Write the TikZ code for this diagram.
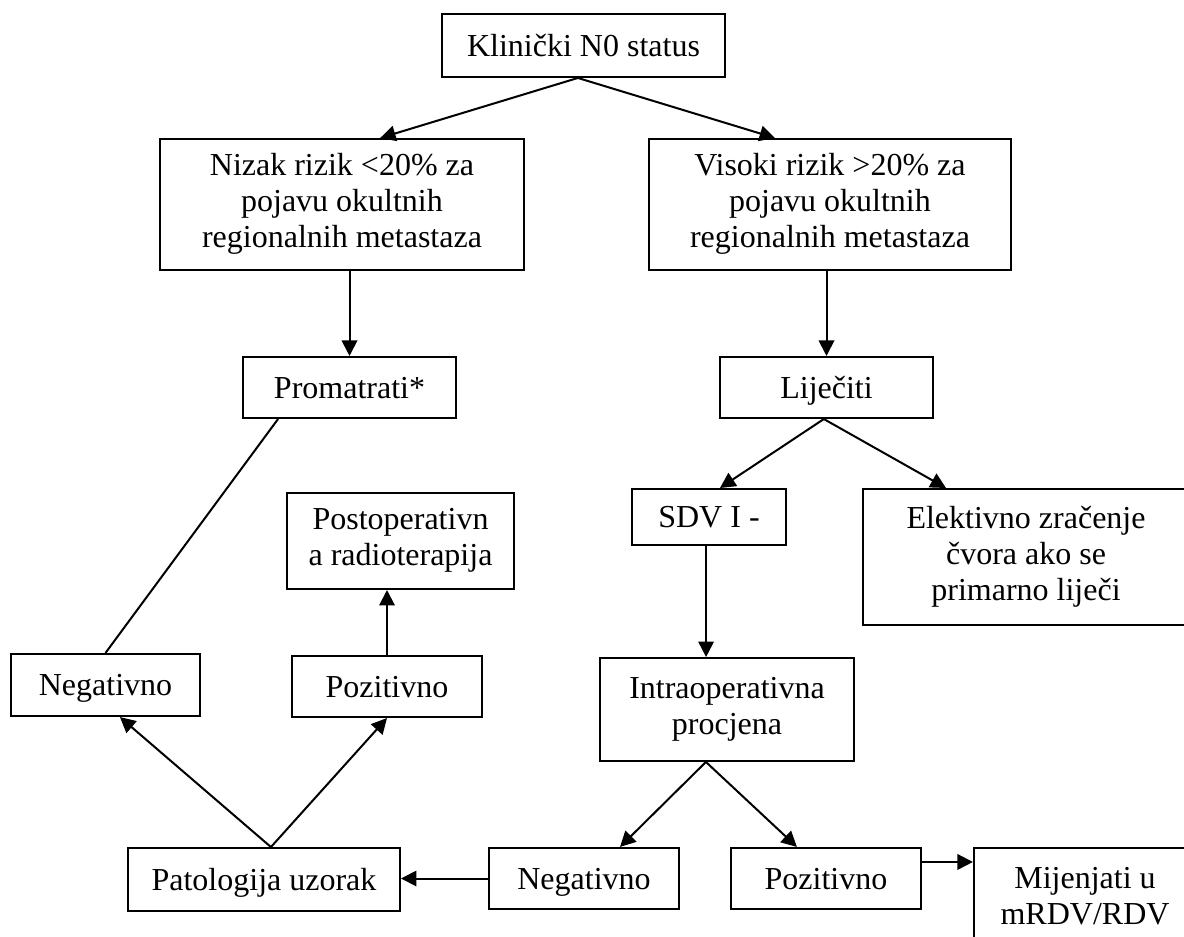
\documentclass[tikz,border=0pt]{standalone}
\usepackage{fontspec}
\setmainfont{Liberation Serif}
\usetikzlibrary{arrows.meta}

\newcommand{\boxstrut}{\rule[-2.8pt]{0pt}{13.5pt}}

\begin{document}
\begin{tikzpicture}[
  x=0.375pt,y=-0.375pt,
  box/.style={draw,line width=0.75pt,align=center,inner sep=0pt,font=\fontsize{12}{13.5}\selectfont,
    execute at begin node=\boxstrut,execute at end node=\boxstrut},
  result/.style={box,minimum width=71.3pt,minimum height=22.9pt},
  conn/.style={line width=0.75pt},
  flow/.style={conn,-{Triangle[length=5.8pt,width=5.8pt]}}
]
  \useasboundingbox (0,0) rectangle (1184,937);
  \clip (0,0) rectangle (1184,937);

  \node[box,minimum width=106.1pt,minimum height=23.6pt] (status) at (583.5,45.5) {Klinički N0 status};

  \node[box,minimum width=136.5pt,minimum height=49.1pt] (nizak) at (342,204.5) {Nizak rizik <20\% za\\pojavu okultnih\\regionalnih metastaza};
  \node[box,minimum width=135.8pt,minimum height=49.1pt] (visoki) at (830,204.5) {Visoki rizik >20\% za\\pojavu okultnih\\regionalnih metastaza};

  \node[box,minimum width=79.9pt,minimum height=22.9pt] (promatrati) at (349.5,387.5) {Promatrati*};
  \node[box,minimum width=79.9pt,minimum height=22.9pt] (lijeciti) at (826.5,387.5) {Liječiti};

  \node[box,minimum width=57.8pt,minimum height=21pt] (sdv) at (709,517) {SDV I -};
  \node[box,minimum width=122.3pt,minimum height=51pt] (elektivno) at (1026,557) {Elektivno zračenje\\čvora ako se\\primarno liječi};

  \node[box,minimum width=85.1pt,minimum height=36pt] (postop) at (400.5,541) {Postoperativn\\a radioterapija};
  \node[box,minimum width=70.9pt,minimum height=23.3pt] (neg-left) at (105.5,685) {Negativno};
  \node[result] (poz-left) at (387,686.5) {Pozitivno};
  \node[box,minimum width=95.3pt,minimum height=38.6pt] (intraop) at (727,709.5) {Intraoperativna\\procjena};

  \node[box,minimum width=102pt,minimum height=23.6pt] (patologija) at (264,879.5) {Patologija uzorak};
  \node[result] (neg-bottom) at (584,878.5) {Negativno};
  \node[result] (poz-bottom) at (826,878.5) {Pozitivno};
  \node[box,minimum width=83.3pt,minimum height=39pt] (mijenjati) at (1085,900) {Mijenjati u\\mRDV/RDV};

  \draw[flow] ([xshift=-2.1pt]status.south) -- ([xshift=14.3pt]nizak.north);
  \draw[flow] ([xshift=-2.1pt]status.south) -- ([xshift=-20.6pt]visoki.north);
  \draw[flow] (nizak.south -| promatrati.north) -- (promatrati.north);
  \draw[flow] (visoki.south -| lijeciti.north) -- (lijeciti.north);
  \draw[conn] ([xshift=-26.8pt]promatrati.south) -- (neg-left.north);
  \draw[flow] ([xshift=-1pt]lijeciti.south) -- ([xshift=4.1pt]sdv.north);
  \draw[flow] ([xshift=-1pt]lijeciti.south) -- ([xshift=-30pt]elektivno.north);
  \draw[flow] ([xshift=-1.1pt]sdv.south) -- ([xshift=-1.1pt]sdv.south |- intraop.north);
  \draw[flow] ([xshift=-7.9pt]intraop.south) -- ([xshift=13.5pt]neg-bottom.north);
  \draw[flow] ([xshift=-7.9pt]intraop.south) -- ([xshift=-10.9pt]poz-bottom.north);
  \draw[flow] (neg-bottom.west) -- (neg-bottom.west -| patologija.east);
  \draw[flow] ([yshift=6.2pt]poz-bottom.east) -- ([yshift=6.2pt]poz-bottom.east -| mijenjati.west);
  \draw[flow] ([xshift=2.6pt]patologija.north) -- ([xshift=5.4pt]neg-left.south);
  \draw[flow] ([xshift=2.6pt]patologija.north) -- (poz-left.south);
  \draw[flow] (poz-left.north) -- (poz-left.north |- postop.south);
\end{tikzpicture}
\end{document}
